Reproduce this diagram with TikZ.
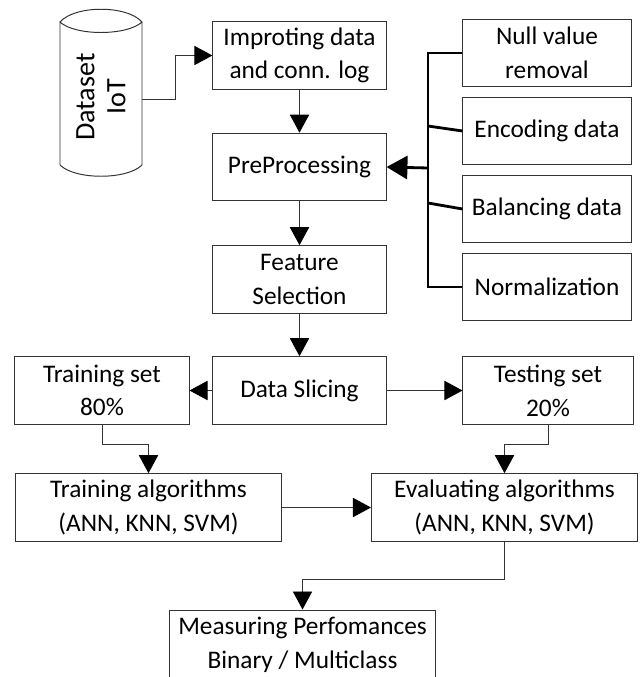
\documentclass[tikz,border=0pt]{standalone}
\usepackage{fontspec}
\setmainfont{Carlito}
\usepackage{tikz}
\usetikzlibrary{arrows.meta,calc}

\begin{document}
\begin{tikzpicture}
      [x=0.025cm, y=-0.025cm,
       font=\fontsize{18}{24}\selectfont,
       box/.style={rectangle,draw=black!80,line width=0.7pt,minimum width=4.33cm,minimum height=1.69cm,align=center,inner sep=1mm},
       side/.style={box,minimum width=4.2cm},
       algo/.style={box,minimum width=6.65cm},
       arr/.style={draw=black!80,line width=0.7pt,-{Triangle[length=0.45cm,width=0.48cm,color=black]}},
       bus/.style={draw=black,line width=2pt},
       busarr/.style={bus,-{Triangle[length=0.52cm,width=0.58cm]}}]
        \useasboundingbox (0,0) rectangle (640,677);
        % dataset cylinder
        \draw[draw=black!80,line width=0.7pt] (60,22) .. controls (75,5) and (127,5) .. (142,22)
          .. controls (127,36) and (75,36) .. (60,22) -- (60,165)
          .. controls (75,180) and (127,180) .. (142,165) -- (142,22);
        \node (ds) at (101,97) [rotate=90,align=center,font=\fontsize{20}{22}\selectfont] {Dataset\\IoT};
        \coordinate (dsout) at (142,99);

        \node (imp) at (299.5,55.5) [box] {Improting data\\and conn. log};
        \node (pre) at (299.5,167) [box] {PreProcessing};
        \node (feat) at (299.5,279.5) [box] {Feature\\Selection};
        \node (slice) at (299.5,390.5) [box] {Data Slicing};

        \node (null) at (547,53) [side] {Null value\\removal};
        \node (enc) at (547,131) [side] {Encoding data};
        \node (bal) at (547,209) [side] {Balancing data};
        \node (norm) at (547,287) [side] {Normalization};

        \node (trset) at (102,390.5) [box,minimum width=4.35cm] {Training set\\80\%};
        \node (teset) at (548,390.5) [box,minimum width=4.25cm] {Testing set\\20\%};
        \node (tralg) at (148.5,507.5) [algo] {Training algorithms\\(ANN, KNN, SVM)};
        \node (evalg) at (504.5,507.5) [algo] {Evaluating algorithms\\(ANN, KNN, SVM)};
        \node (meas) at (302.5,645) [algo,minimum height=1.75cm] {Measuring Perfomances\\Binary / Multiclass};

        % preprocessing steps
        \coordinate (bus) at (428,168);
        \coordinate (encj) at (428,126);
        \coordinate (balj) at (428,203);
        \draw[bus] (null.west) -| (bus) |- (norm.west);
        \draw[bus] (encj) -- (enc.west);
        \draw[bus] (balj) -- (bal.west);
        \draw[busarr] (bus) -- (pre.east);

        \draw[arr] (dsout) -- ++(33,0) |- (imp.west);
        \draw[arr] (imp) -- (pre);
        \draw[arr] (pre) -- (feat);
        \draw[arr] (feat) -- (slice);
        \draw[arr] (slice) -- (trset);
        \draw[arr] (slice) -- (teset);
        \draw[arr] (trset.south) -- ++(0,20) -| (tralg.north);
        \draw[arr] (teset.south) -- ++(0,20) -| (evalg.north);
        \draw[arr] (tralg) -- (evalg);
        \draw[arr] (evalg.south) -- ++(0,38) -| (meas.north);
      \end{tikzpicture}
\end{document}
